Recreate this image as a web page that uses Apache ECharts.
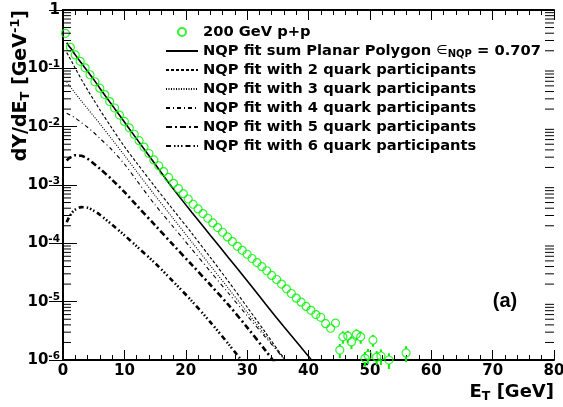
<!DOCTYPE html>
<html>
<head>
<meta charset="utf-8">
<script src="https://cdn.jsdelivr.net/npm/echarts@6/dist/echarts.min.js"></script>
<style>
html, body { margin: 0; padding: 0; background: #fff; }
#main { width: 563px; height: 407px; }
</style>
</head>
<body>
<div id="main"></div>
<script>
var FONT = 'DejaVu Sans';

// green data points, 200 GeV p+p
var dataX = [0.4, 1.2, 2.0, 2.8, 3.6, 4.4, 5.2, 6.0, 6.8, 7.6, 8.4, 9.2, 10.0, 10.8, 11.6, 12.4,
  13.2, 14.0, 14.8, 15.6, 16.4, 17.2, 18.0, 18.8, 19.6, 20.4, 21.2, 22.0, 22.8, 23.6, 24.4,
  25.2, 26.0, 26.8, 27.6, 28.4, 29.2, 30.0, 30.8, 31.6, 32.4, 33.2, 34.0, 34.8, 35.6, 36.4,
  37.2, 38.0, 38.8, 39.6, 40.4, 41.2, 42.0, 42.8, 43.6, 44.4];
var dataY = [0.398, 0.229, 0.170, 0.132, 0.102, 0.0776, 0.0589, 0.0457, 0.0355, 0.0269, 0.0209,
  0.0158, 0.0123, 0.00955, 0.00741, 0.00575, 0.00447, 0.00347, 0.00269, 0.00214, 0.0017,
  0.00135, 0.00107, 8.7e-4, 7.1e-4, 5.75e-4, 4.68e-4, 3.89e-4, 3.24e-4, 2.69e-4, 2.24e-4,
  1.86e-4, 1.55e-4, 1.29e-4, 1.07e-4, 8.9e-5, 7.6e-5, 6.5e-5, 5.5e-5, 4.68e-5, 3.98e-5,
  3.39e-5, 2.82e-5, 2.4e-5, 2.0e-5, 1.66e-5, 1.38e-5, 1.15e-5, 9.8e-6, 8.3e-6, 7.1e-6,
  6.0e-6, 5.4e-6, 4.2e-6, 3.5e-6, 4.3e-6];
// tail points with visible error bars
var tailX = [45.1, 45.6, 46.4, 47.0, 47.8, 48.5, 49.2, 49.7, 50.5, 51.1, 51.8, 53.1, 55.9];
var tailY = [1.48e-6, 2.5e-6, 2.57e-6, 2.04e-6, 2.75e-6, 2.5e-6, 1.07e-6, 1.2e-6, 2.19e-6,
  1.12e-6, 1.17e-6, 1.0e-6, 1.32e-6];
var tailErr = [0.4e-6, 0.6e-6, 0.6e-6, 0.5e-6, 0.6e-6, 0.6e-6, 0.3e-6, 0.35e-6, 0.5e-6,
  0.3e-6, 0.35e-6, 0.3e-6, 0.4e-6];

// NQP fit curves
var fitX = [0.6, 1, 1.5, 2, 3, 4, 5, 6, 8, 10, 12, 15, 18, 21, 24, 27, 30, 33, 36, 39, 42];
var fitSum = [0.275, 0.240, 0.204, 0.170, 0.123, 0.0891, 0.0646, 0.0457, 0.0234, 0.0120,
  0.00617, 0.00229, 8.5e-4, 3.39e-4, 1.38e-4, 5.6e-5, 2.29e-5, 9.1e-6, 3.7e-6, 1.55e-6, 6.5e-7];
var fit2 = [0.186, 0.158, 0.126, 0.100, 0.0646, 0.0427, 0.0288, 0.0195, 0.00933, 0.00457,
  0.0024, 9.3e-4, 3.7e-4, 1.48e-4, 5.75e-5, 2.19e-5, 8.1e-6, 2.95e-6, 1.07e-6, 4.0e-7, null];
var fit3 = [0.0575, 0.0513, 0.0437, 0.0372, 0.0275, 0.0204, 0.0151, 0.0112, 0.00603, 0.00324,
  0.0017, 6.6e-4, 2.63e-4, 1.05e-4, 4.17e-5, 1.66e-5, 6.6e-6, 2.63e-6, 1.05e-6, 4.2e-7, null];
var fit4 = [0.0170, 0.0162, 0.0151, 0.0141, 0.0117, 0.00977, 0.00794, 0.00631, 0.00398, 0.00229,
  0.0012, 4.57e-4, 1.9e-4, 7.9e-5, 3.3e-5, 1.38e-5, 5.75e-6, 2.45e-6, 1.05e-6, 4.5e-7, null];
var fit5 = [0.00263, 0.00288, 0.00309, 0.00324, 0.00316, 0.00282, 0.00234, 0.00191, 0.00123,
  7.6e-4, 4.47e-4, 2.04e-4, 9.3e-5, 4.27e-5, 1.95e-5, 8.7e-6, 3.63e-6, 1.45e-6, 5.6e-7, null, null];
var fit6 = [2.29e-4, 2.82e-4, 3.39e-4, 3.8e-4, 4.17e-4, 4.07e-4, 3.63e-4, 3.09e-4, 2.09e-4,
  1.38e-4, 8.9e-5, 4.57e-5, 2.19e-5, 1.02e-5, 4.47e-6, 1.86e-6, 7.4e-7, null, null, null, null];

var names = ['200 GeV p+p', 'NQP fit sum Planar Polygon', 'NQP fit with 2 quark participants',
  'NQP fit with 3 quark participants', 'NQP fit with 4 quark participants',
  'NQP fit with 5 quark participants', 'NQP fit with 6 quark participants'];
var decades = [1e-6, 1e-5, 1e-4, 1e-3, 1e-2, 1e-1];

function pairs(xs, ys) {
  return xs.map(function (x, i) { return [x, ys[i]]; });
}

var myChart = echarts.init(document.getElementById('main'));

function fitLine(name, ys, width, dash) {
  return {
    name: name, type: 'line', data: pairs(fitX, ys), symbol: 'none', smooth: 0.3,
    itemStyle: { color: '#000' },
    lineStyle: { color: '#000', width: width, type: dash }, z: 3, animation: false
  };
}

var axisFont = { fontFamily: FONT, fontWeight: 'bold', fontSize: 15, color: '#000' };
var txt = { fontFamily: FONT, fontWeight: 'bold', fontSize: 14.7, color: '#000', lineHeight: 16 };

var option = {
  animation: false,
  backgroundColor: '#fff',
  grid: { left: 63, right: 9, top: 10, bottom: 47, outerBoundsMode: 'none' },
  legend: {
    orient: 'vertical', left: 165, top: 24, padding: 0, itemWidth: 32, itemHeight: 8, itemGap: 3,
    selectedMode: false,
    textStyle: {
      fontFamily: FONT, fontWeight: 'bold', fontSize: 14.7, color: '#000', lineHeight: 16,
      rich: {
        n: txt,
        e: { fontFamily: FONT, fontSize: 13, fontWeight: 'normal', color: '#000', lineHeight: 16 },
        s: { fontFamily: FONT, fontSize: 10, fontWeight: 'bold', color: '#000', verticalAlign: 'bottom', lineHeight: 10 }
      }
    },
    formatter: function (name) {
      if (name === names[1]) return '{n|' + name + ' }{e|∈}{s|NQP}{n| = 0.707}';
      return '{n|' + name + '}';
    },
    data: names.map(function (n, i) {
      return i === 0 ? { name: n } : { name: n, itemStyle: { opacity: 0 } };
    })
  },
  xAxis: [{
    type: 'value', min: 0, max: 80, interval: 10,
    axisLine: { lineStyle: { color: '#000', width: 2 } },
    axisTick: { inside: true, length: 10, lineStyle: { color: '#000', width: 1 } },
    minorTick: { show: true, splitNumber: 5, length: 5, lineStyle: { color: '#000', width: 1 } },
    axisLabel: Object.assign({ margin: 4 }, axisFont),
    splitLine: { show: false }
  }, {
    type: 'value', min: 0, max: 80, interval: 10, position: 'top',
    axisLine: { lineStyle: { color: '#000', width: 2 } },
    axisTick: { inside: true, length: 10, lineStyle: { color: '#000', width: 1 } },
    minorTick: { show: true, splitNumber: 5, length: 5, lineStyle: { color: '#000', width: 1 } },
    axisLabel: { show: false },
    splitLine: { show: false }
  }],
  yAxis: [{
    type: 'log', logBase: 10, min: 1e-6, max: 1, splitNumber: 6,
    axisLine: { lineStyle: { color: '#000', width: 2 } },
    axisTick: { inside: true, length: 14, lineStyle: { color: '#000', width: 1 } },
    axisLabel: {
      margin: 3,
      formatter: function (v) {
        var e = Math.round(Math.log10(v));
        if (e === 0) return '{b|1}';
        return '{b|10}{s|' + e + '}';
      },
      rich: {
        b: { fontFamily: FONT, fontWeight: 'bold', fontSize: 15, color: '#000', lineHeight: 19 },
        s: { fontFamily: FONT, fontWeight: 'bold', fontSize: 10.5, color: '#000', verticalAlign: 'top', lineHeight: 10 }
      }
    },
    splitLine: { show: false }
  }, {
    type: 'log', logBase: 10, min: 1e-6, max: 1, splitNumber: 6, position: 'right',
    axisLine: { lineStyle: { color: '#000', width: 2 } },
    axisTick: { inside: true, length: 14, lineStyle: { color: '#000', width: 1 } },
    axisLabel: { show: false },
    splitLine: { show: false }
  }],
  series: [
    {
      name: names[0], type: 'scatter', data: pairs(dataX, dataY).concat(pairs(tailX, tailY)),
      symbol: 'circle', symbolSize: 8,
      itemStyle: { color: 'rgba(0,0,0,0)', borderColor: '#00f000', borderWidth: 1.2 }, z: 5
    },
    {
      type: 'custom', name: 'err', silent: true, z: 5,
      data: tailX.map(function (x, i) { return [x, tailY[i], tailErr[i]]; }),
      renderItem: function (params, api) {
        var x = api.value(0), y = api.value(1), e = api.value(2);
        var c = api.coord([x, y]);
        var t = api.coord([x, y + e]);
        var b = api.coord([x, Math.max(y - e, 1e-8)]);
        var st = { stroke: '#00f000', lineWidth: 2 };
        return {
          type: 'group', children: [
            { type: 'line', shape: { x1: c[0], y1: t[1], x2: c[0], y2: c[1] - 4 }, style: st },
            { type: 'line', shape: { x1: c[0], y1: c[1] + 4, x2: c[0], y2: b[1] }, style: st }
          ]
        };
      }
    },
    fitLine(names[1], fitSum, 1.6, 'solid'),
    fitLine(names[2], fit2, 1.1, [3, 2]),
    fitLine(names[3], fit3, 1.1, [1, 1.5]),
    fitLine(names[4], fit4, 1.1, [4, 3, 1, 3]),
    fitLine(names[5], fit5, 2.6, [6, 3, 2, 3]),
    fitLine(names[6], fit6, 2.6, [5, 3, 1.5, 2, 1.5, 2, 1.5, 3]),
    {
      // log minor ticks on left and right axes
      type: 'custom', name: 'minor', silent: true, z: 6,
      data: decades.map(function (d) { return [0, d]; }),
      renderItem: function (params, api) {
        var d = api.value(1);
        var cs = params.coordSys;
        var kids = [];
        for (var m = 2; m <= 9; m++) {
          var y = api.coord([0, m * d])[1];
          kids.push({ type: 'line', shape: { x1: cs.x, y1: y, x2: cs.x + 8, y2: y }, style: { stroke: '#000', lineWidth: 1 } });
          kids.push({ type: 'line', shape: { x1: cs.x + cs.width - 9, y1: y, x2: cs.x + cs.width, y2: y }, style: { stroke: '#000', lineWidth: 1 } });
        }
        return { type: 'group', children: kids };
      }
    }
  ],
  graphic: [
    {
      type: 'text', x: 21, y: 10, rotation: Math.PI / 2,
      style: {
        text: '{b|dY/dE}{sub|T}{b| [GeV}{sup|-1}{b|]}', align: 'right', verticalAlign: 'middle',
        rich: {
          b: { fontFamily: FONT, fontWeight: 'bold', fontSize: 19, fill: '#000', lineHeight: 23 },
          sub: { fontFamily: FONT, fontWeight: 'bold', fontSize: 13, fill: '#000', verticalAlign: 'bottom', lineHeight: 13 },
          sup: { fontFamily: FONT, fontWeight: 'bold', fontSize: 13, fill: '#000', verticalAlign: 'top', lineHeight: 13 }
        }
      }
    },
    {
      type: 'text', x: 554, y: 392,
      style: {
        text: '{b|E}{sub|T}{b| [GeV]}', align: 'right', verticalAlign: 'middle',
        rich: {
          b: { fontFamily: FONT, fontWeight: 'bold', fontSize: 18, fill: '#000', lineHeight: 22 },
          sub: { fontFamily: FONT, fontWeight: 'bold', fontSize: 12.5, fill: '#000', verticalAlign: 'bottom', lineHeight: 12 }
        }
      }
    },
    {
      type: 'text', x: 505, y: 301,
      style: { text: '(a)', font: 'bold 20px Liberation Sans', fill: '#000', align: 'center', verticalAlign: 'middle' }
    }
  ]
};

myChart.setOption(option);
</script>
</body>
</html>
